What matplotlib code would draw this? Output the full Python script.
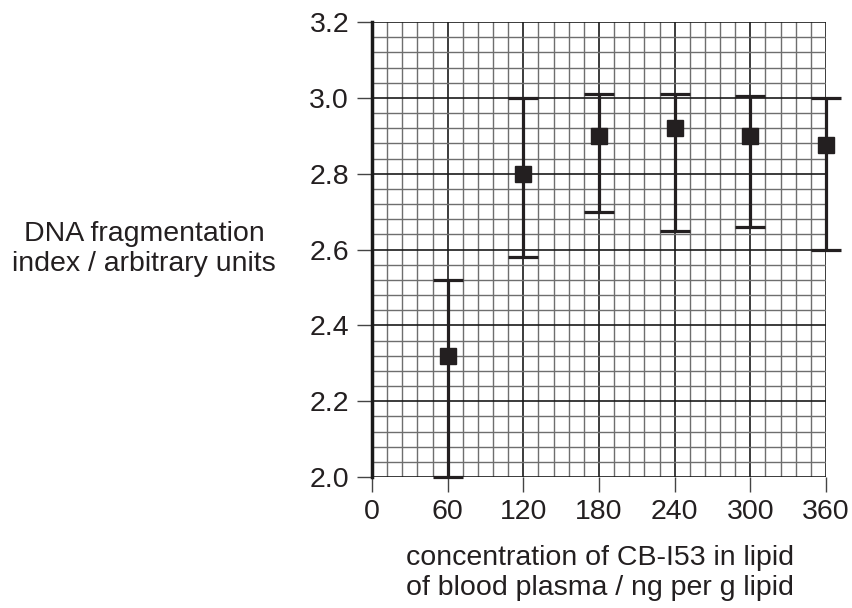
import matplotlib
matplotlib.use('Agg')
from matplotlib import pyplot as plt
from matplotlib.ticker import MultipleLocator, FormatStrFormatter
import numpy as np

plt.rcParams['font.family'] = ['Liberation Sans', 'DejaVu Sans']
plt.rcParams['font.size'] = 20.5

conc = [60, 120, 180, 240, 300, 360]
mean_dfi = [2.32, 2.80, 2.90, 2.92, 2.90, 2.875]
err_low = [2.00, 2.58, 2.70, 2.65, 2.66, 2.60]
err_high = [2.52, 3.00, 3.01, 3.01, 3.005, 3.00]

yerr = [np.array(mean_dfi) - np.array(err_low),
        np.array(err_high) - np.array(mean_dfi)]

fig = plt.figure(figsize=(8.52, 6.08), dpi=100)
ax = fig.add_axes([372/852, 1-477/608, 454/852, 455/608])

ax.set_xlim(0, 360)
ax.set_ylim(2.0, 3.2)
ax.xaxis.set_major_locator(MultipleLocator(60))
ax.xaxis.set_minor_locator(MultipleLocator(12))
ax.yaxis.set_major_locator(MultipleLocator(0.2))
ax.yaxis.set_minor_locator(MultipleLocator(0.04))
ax.grid(which='minor', color='#6e6e6e', lw=1.0)
ax.grid(which='major', color='#1a1a1a', lw=1.2)
ax.set_axisbelow(True)

for s in ['top', 'right', 'bottom']:
    ax.spines[s].set_visible(False)
ax.spines['left'].set_linewidth(2.5)
ax.spines['left'].set_color('#1a1a1a')

ax.tick_params(which='major', direction='out', length=10.5, width=1.0,
               color='#444444', labelsize=20.5, labelcolor='#231f20')
ax.tick_params(axis='y', pad=6)
ax.tick_params(axis='x', pad=5)
ax.tick_params(which='minor', length=0)
ax.yaxis.set_major_formatter(FormatStrFormatter('%.1f'))

ax.errorbar(conc, mean_dfi, yerr=yerr, fmt='s', color='#231f20',
            ms=11.5, elinewidth=2.3, capsize=10.8, capthick=2.3,
            clip_on=False, zorder=5)

fig.text(144/852, 1-249/608, 'DNA fragmentation\nindex / arbitrary units',
         ha='center', va='center', fontsize=20.5, linespacing=1.17,
         color='#231f20')
fig.text(600/852, 1-573/608, 'concentration of CB-I53 in lipid\nof blood plasma / ng per g lipid',
         ha='center', va='center', fontsize=20.5, linespacing=1.2,
         color='#231f20')

plt.savefig('out.png', dpi=100)
